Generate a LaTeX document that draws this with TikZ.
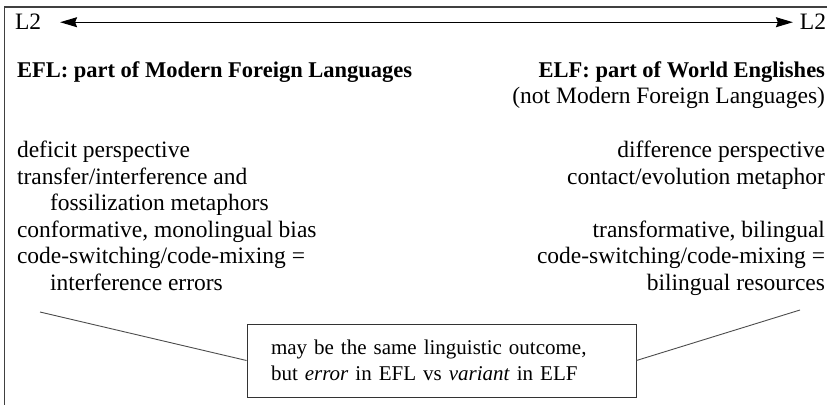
\documentclass[tikz,border=0pt]{standalone}
\usepackage{fontspec}
\setmainfont{Liberation Serif}
\usetikzlibrary{arrows.meta}
\begin{document}
\begin{tikzpicture}[x=1pt,y=-1pt,
  txt/.style={inner sep=0pt,outer sep=0pt,font=\fontsize{23.5}{26.5}\selectfont},
  head/.style={txt,font=\fontsize{22.5}{26.5}\selectfont\bfseries},
  frame/.style={draw=black!75,line width=1.1pt},
  link/.style={draw=black!70,line width=0.9pt},
  scale arrow/.style={line width=1.2pt,{Stealth[length=17pt,width=10pt,inset=2pt]}-{Stealth[length=17pt,width=10pt,inset=2pt]}},
  notebox/.style={draw=black!80,line width=0.9pt,inner xsep=24pt,inner ysep=0pt,align=left,minimum height=73pt,font=\fontsize{21}{26.5}\selectfont,text width=341pt}]
\useasboundingbox (0,0) rectangle (827,405);

% open frame: top and left rules only
\draw[frame] (827,7) -- (4.8,7) -- (4.8,405);

% L2 -- L2 scale
\node[txt,anchor=base west] (l2a) at (15,29) {L2};
\node[txt,anchor=base east] (l2b) at (826,29) {L2};
\draw[scale arrow] ([xshift=19pt,yshift=-1pt]l2a.east) -- ([xshift=-7pt,yshift=-1pt]l2b.west);

% headings
\node[head,anchor=base west] (efl) at (17,77) {EFL: part of Modern Foreign Languages};
\node[head,anchor=base east] (elf) at (825,77) {ELF: part of World Englishes};
\node[txt,anchor=base east] (elfsub) at (825,103.5) {(not Modern Foreign Languages)};

% EFL characteristics (base = last line)
\node[txt,anchor=base west,align=left] (efllist) at (17,290) {%
deficit perspective\\
transfer/interference and\\
\hspace*{33pt}fossilization metaphors\\
conformative, monolingual bias\\
code-switching/code-mixing =\\
\hspace*{33pt}interference errors};

% ELF characteristics (base = last line)
\node[txt,anchor=base east,align=right] (elflist) at (825,290) {%
difference perspective\\
contact/evolution metaphor\\[26.5pt]
transformative, bilingual\\
code-switching/code-mixing =\\
bilingual resources};

% shared note
\node[notebox] (note) at (441.5,360.5) {may be the same linguistic outcome,\\but \emph{error} in EFL vs \emph{variant} in ELF};

\coordinate (lend) at (40,312);
\coordinate (rend) at (800,310);
\draw[link] (lend) -- (note.west);
\draw[link] (note.east) -- (rend);
\end{tikzpicture}
\end{document}
